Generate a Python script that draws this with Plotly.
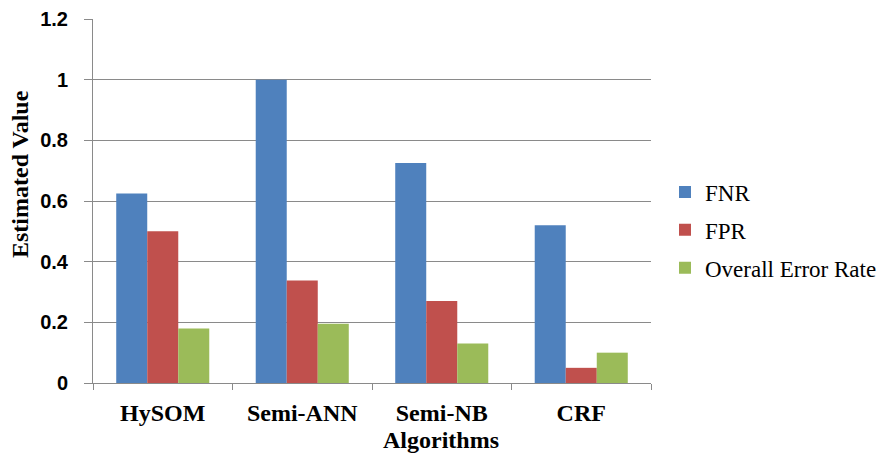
import plotly.graph_objects as go

algorithms = ["HySOM", "Semi-ANN", "Semi-NB", "CRF"]
fnr = [0.625, 1.0, 0.725, 0.52]
fpr = [0.50, 0.338, 0.27, 0.05]
overall_error = [0.18, 0.195, 0.13, 0.10]
y_ticks = [0, 0.2, 0.4, 0.6, 0.8, 1.0, 1.2]

series = [
    ("FNR", fnr, "#4F81BD"),
    ("FPR", fpr, "#C0504D"),
    ("Overall Error Rate", overall_error, "#9BBB59"),
]

W, H = 877, 454
L, R, T, B = 93, 226, 19, 71
SERIF = "Liberation Serif"
SANS = "Liberation Sans"

fig = go.Figure()
for i, (name, vals, color) in enumerate(series):
    fig.add_trace(go.Bar(
        x=algorithms, y=vals, name=name,
        marker=dict(color=color, line=dict(width=0)),
        legendgroup=str(i),
    ))

grid = "#8A8A8A"
fig.update_layout(
    width=W, height=H,
    margin=dict(l=L, r=R, t=T, b=B, autoexpand=False),
    paper_bgcolor="white", plot_bgcolor="white",
    barmode="group", bargap=0.333, bargroupgap=0,
    showlegend=True,
    legend=dict(
        x=(665 - L) / (W - L - R), xanchor="left",
        y=1 - (230 - T) / (H - T - B), yanchor="middle",
        font=dict(family=SERIF, size=23, color="black"),
        tracegroupgap=5, itemwidth=30,
        bgcolor="rgba(0,0,0,0)",
    ),
    xaxis=dict(
        showline=True, linecolor=grid, linewidth=1,
        ticks="outside", tickson="boundaries", ticklen=6, tickcolor=grid,
        tickfont=dict(family=SERIF, size=24, color="black"),
        ticklabelstandoff=8,
        tickvals=algorithms,
        ticktext=[f"<b>{a}</b>" for a in algorithms],
        showgrid=False,
    ),
    yaxis=dict(
        range=[0, 1.2],
        tickvals=y_ticks,
        ticktext=[f"<b>{v:g}</b>" for v in y_ticks],
        showgrid=True, gridcolor=grid, gridwidth=1,
        showline=True, linecolor=grid, linewidth=1,
        ticks="outside", ticklen=8, tickcolor=grid,
        tickfont=dict(family=SANS, size=20, color="black"),
        ticklabelstandoff=12,
        zeroline=False,
    ),
    font=dict(family=SERIF),
)

# axis titles
fig.add_annotation(
    text="<b>Estimated Value</b>", textangle=-90,
    xref="paper", yref="paper",
    x=(20 - L) / (W - L - R), y=1 - (174 - T) / (H - T - B),
    xanchor="center", yanchor="middle", showarrow=False,
    font=dict(family=SERIF, size=24, color="black"),
)
fig.add_annotation(
    text="<b>Algorithms</b>",
    xref="paper", yref="paper",
    x=(441 - L) / (W - L - R), y=1 - (440 - T) / (H - T - B),
    xanchor="center", yanchor="middle", showarrow=False,
    font=dict(family=SERIF, size=24, color="black"),
)

fig.write_html("out.html")
